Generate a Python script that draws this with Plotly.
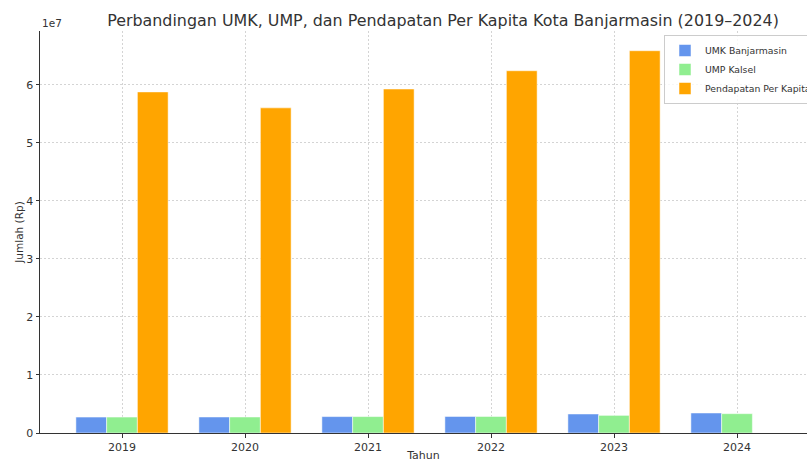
import plotly.graph_objects as go

years = [2019, 2020, 2021, 2022, 2023, 2024]
umk_banjarmasin = [2750000, 2760000, 2830000, 2850000, 3280000, 3450000]
ump_kalsel = [2750000, 2760000, 2830000, 2850000, 3040000, 3330000]
pendapatan_per_kapita = [58800000, 56050000, 59300000, 62450000, 65900000, None]

series_names = ["UMK Banjarmasin", "UMP Kalsel", "Pendapatan Per Kapita"]
series_colors = ["#6495ED", "#90EE90", "#FFA500"]
y_tickvals = [0, 1e7, 2e7, 3e7, 4e7, 5e7, 6e7]
y_ticktext = ["0", "1", "2", "3", "4", "5", "6"]

font_family = "DejaVu Sans, sans-serif"
text_color = "#333333"

fig = go.Figure()
for name, vals, color in zip(series_names,
                             [umk_banjarmasin, ump_kalsel, pendapatan_per_kapita],
                             series_colors):
    fig.add_trace(go.Bar(
        x=years, y=vals, name=name,
        marker=dict(color=color, line=dict(color="rgba(255,255,255,0.5)", width=1)),
    ))

fig.update_layout(
    width=807, height=462,
    margin=dict(l=40, r=0, t=31, b=29, autoexpand=False),
    paper_bgcolor="white", plot_bgcolor="white",
    barmode="group", bargap=0.25, bargroupgap=0,
    font=dict(family=font_family, size=10, color=text_color),
    title=dict(
        text="Perbandingan UMK, UMP, dan Pendapatan Per Kapita Kota Banjarmasin (2019–2024)",
        x=443 / 807, xanchor="center", y=1 - 20 / 462, yanchor="middle",
        font=dict(size=15.9, color=text_color, family=font_family),
    ),
    legend=dict(
        x=(664 - 40) / 767, xanchor="left", y=1 - 4 / 402, yanchor="top",
        bgcolor="rgba(255,255,255,0.8)", bordercolor="#cccccc", borderwidth=1,
        font=dict(size=9.3, color=text_color, family=font_family),
        itemwidth=30, tracegroupgap=0,
    ),
    showlegend=True,
)

fig.update_xaxes(
    range=[2018.3333, 2024.569], automargin=False,
    tickvals=years, ticktext=[str(y) for y in years],
    ticks="outside", ticklen=3.5, tickcolor=text_color, tickwidth=0.8,
    showline=True, linecolor=text_color, linewidth=1,
    showgrid=True, gridcolor="#d4d4d4", gridwidth=0.8, griddash="2px,2px",
    zeroline=False,
    title=dict(text="Tahun", font=dict(size=11, color=text_color), standoff=2),
    tickfont=dict(size=11, color=text_color),
)
fig.update_yaxes(
    range=[0, 6.93e7], automargin=False,
    tickvals=y_tickvals, ticktext=y_ticktext,
    ticks="outside", ticklen=3.5, tickcolor=text_color, tickwidth=0.8,
    showline=True, linecolor=text_color, linewidth=1,
    showgrid=True, gridcolor="#d4d4d4", gridwidth=0.8, griddash="2px,2px",
    zeroline=False,
    title=dict(text="Jumlah (Rp)", font=dict(size=10.5, color=text_color), standoff=0),
    tickfont=dict(size=11, color=text_color),
)

fig.add_annotation(
    text="1e7", xref="paper", yref="paper", x=0, y=1, xanchor="left", yanchor="bottom",
    yshift=0, showarrow=False, font=dict(size=10.5, color=text_color, family=font_family),
)

fig.write_html(
    "out.html",
    config={"displayModeBar": False},
    post_script="document.body.style.margin='0';document.body.style.padding='0';",
)
